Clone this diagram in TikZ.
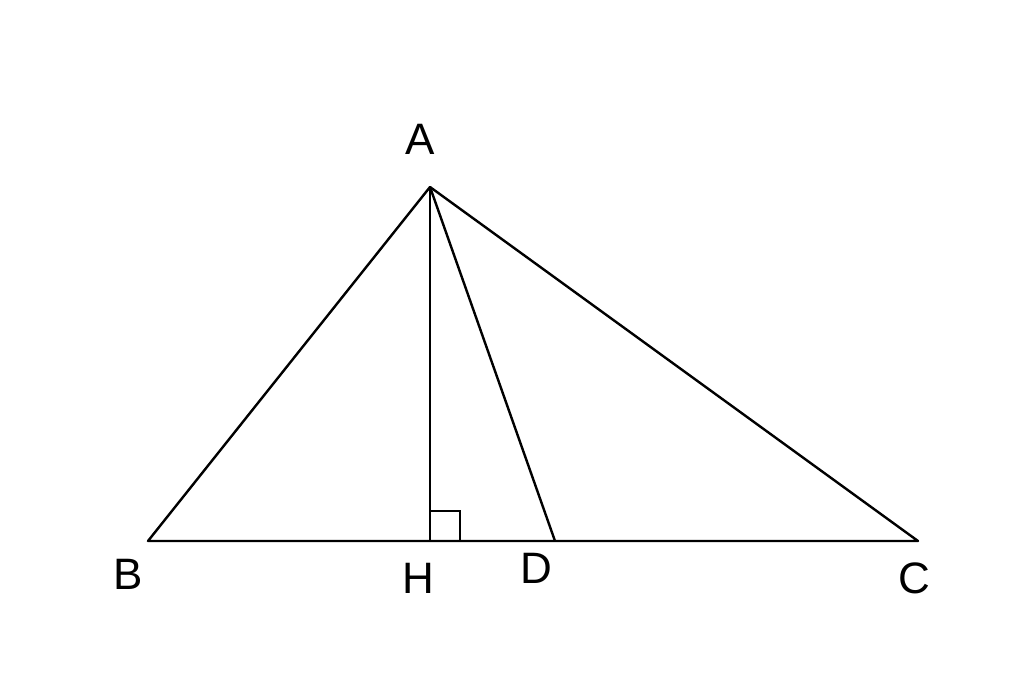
\documentclass[tikz,border=0pt]{standalone}
\usepackage{fontspec}
\setmainfont{Liberation Sans}
\begin{document}
\begin{tikzpicture}[x=1pt,y=-1pt,
  seg/.style={line width=2.4pt,line join=round},
  lbl/.style={font=\fontsize{44}{44}\selectfont,inner sep=0pt}]
\useasboundingbox (0,0) rectangle (1024,674);
\coordinate (A) at (430,187);
\coordinate (B) at (148,541);
\coordinate (H) at (430,541);
\coordinate (D) at (555,541);
\coordinate (C) at (918,541);
\draw[seg] (A) -- (B) -- (C) -- cycle;
\draw[seg] (A) -- (H);
\draw[seg] (A) -- (D);
\draw[line width=2pt] (430,511) -- (460,511) -- (460,541);
\node[lbl] (lA) at (420,139) {A};
\node[lbl] (lB) at (128,574) {B};
\node[lbl] (lH) at (418,578) {H};
\node[lbl] (lD) at (536,568) {D};
\node[lbl] (lC) at (914,578) {C};
\end{tikzpicture}
\end{document}
